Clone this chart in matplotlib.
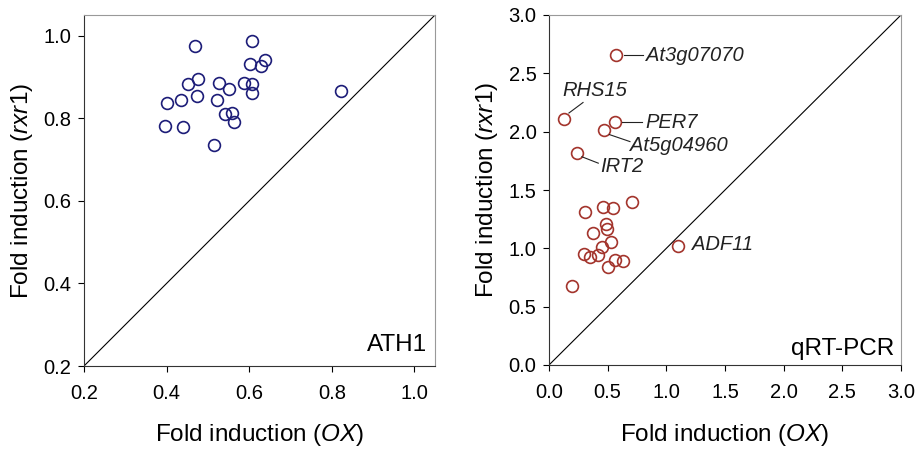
import matplotlib
matplotlib.use('Agg')
import matplotlib.pyplot as plt

plt.rcParams['font.family'] = ['Liberation Sans', 'DejaVu Sans']
plt.rcParams['mathtext.fontset'] = 'custom'
plt.rcParams['mathtext.rm'] = 'Liberation Sans'
plt.rcParams['mathtext.it'] = 'Liberation Sans:italic'

# ATH1 microarray fold induction
ath1_ox = [0.470, 0.606, 0.639, 0.629, 0.601, 0.451, 0.475, 0.528, 0.550, 0.587, 0.608, 0.606,
           0.474, 0.402, 0.434, 0.521, 0.542, 0.558, 0.563, 0.396, 0.439, 0.516, 0.823]
ath1_rxr1 = [0.976, 0.986, 0.942, 0.927, 0.931, 0.882, 0.894, 0.885, 0.871, 0.885, 0.882, 0.860,
             0.855, 0.836, 0.843, 0.843, 0.810, 0.813, 0.790, 0.780, 0.779, 0.736, 0.865]

# qRT-PCR fold induction
pcr_ox = [0.572, 0.131, 0.563, 0.469, 0.236, 0.705, 0.463, 0.543, 0.307, 0.486, 0.498, 0.378,
          0.529, 0.449, 0.301, 0.350, 0.421, 0.563, 0.634, 0.506, 0.199, 1.103]
pcr_rxr1 = [2.657, 2.106, 2.080, 2.014, 1.814, 1.394, 1.357, 1.349, 1.314, 1.209, 1.163, 1.134,
            1.057, 1.014, 0.949, 0.929, 0.943, 0.900, 0.891, 0.843, 0.680, 1.023]

# gene labels: name, text (x, y), leader line start/end
gene_names = ['At3g07070', 'RHS15', 'PER7', 'At5g04960', 'IRT2', 'ADF11']
gene_text = [(0.83, 2.657), (0.115, 2.35), (0.82, 2.075), (0.69, 1.885), (0.435, 1.70), (1.215, 1.03)]
gene_lines = [((0.64, 2.657), (0.80, 2.657)), ((0.17, 2.16), (0.29, 2.25)),
              ((0.625, 2.08), (0.79, 2.08)), ((0.515, 1.975), (0.69, 1.915)),
              ((0.28, 1.785), (0.42, 1.73)), None]

fig = plt.figure(figsize=(9.16, 4.53), dpi=100)
ax1 = fig.add_axes([84/916, 87/453, 351/916, 351/453])
ax2 = fig.add_axes([549/916, 88/453, 352/916, 350/453])

def style(ax):
    ax.spines['top'].set_color('#999999')
    ax.spines['right'].set_color('#999999')
    ax.spines['top'].set_linewidth(0.8)
    ax.spines['right'].set_linewidth(0.8)
    ax.spines['left'].set_color('#333333')
    ax.spines['bottom'].set_color('#333333')
    ax.tick_params(direction='out', length=4, width=0.8, labelsize=14.5)
    ax.tick_params(axis='x', pad=9)
    ax.tick_params(axis='y', pad=5)

# left panel
ax1.plot([0.2, 1.05], [0.2, 1.05], color='black', lw=0.8)
ax1.plot(ath1_ox, ath1_rxr1, 'o', mfc='none', mec='#1c1c78', ms=8.5, mew=1.2)
ax1.set_xlim(0.2, 1.05)
ax1.set_ylim(0.2, 1.05)
ax1.set_xticks([0.2, 0.4, 0.6, 0.8, 1.0])
ax1.set_yticks([0.2, 0.4, 0.6, 0.8, 1.0])
ax1.text(1.03, 0.25, 'ATH1', ha='right', va='center', fontsize=17.5)
ax1.set_xlabel('Fold induction ($\\mathit{OX}$)', fontsize=17.5, labelpad=14)
ax1.set_ylabel('Fold induction ($\\mathit{rxr1}$)', fontsize=17.5, labelpad=6)
style(ax1)

# right panel
ax2.plot([0, 3], [0, 3], color='black', lw=0.8)
ax2.plot(pcr_ox, pcr_rxr1, 'o', mfc='none', mec='#a3342c', ms=8.5, mew=1.2)
for name, tp, ln in zip(gene_names, gene_text, gene_lines):
    ax2.text(tp[0], tp[1], name, style='italic', fontsize=14.5, ha='left', va='center', color='#222222')
    if ln is not None:
        ax2.plot([ln[0][0], ln[1][0]], [ln[0][1], ln[1][1]], color='#222222', lw=0.8)
ax2.set_xlim(0, 3)
ax2.set_ylim(0, 3)
ax2.set_xticks([0.0, 0.5, 1.0, 1.5, 2.0, 2.5, 3.0])
ax2.set_yticks([0.0, 0.5, 1.0, 1.5, 2.0, 2.5, 3.0])
ax2.set_xticklabels(['0.0', '0.5', '1.0', '1.5', '2.0', '2.5', '3.0'])
ax2.set_yticklabels(['0.0', '0.5', '1.0', '1.5', '2.0', '2.5', '3.0'])
ax2.text(2.94, 0.14, 'qRT-PCR', ha='right', va='center', fontsize=17.5)
ax2.set_xlabel('Fold induction ($\\mathit{OX}$)', fontsize=17.5, labelpad=14)
ax2.set_ylabel('Fold induction ($\\mathit{rxr1}$)', fontsize=17.5, labelpad=6)
style(ax2)

fig.savefig('out.png', dpi=100)
